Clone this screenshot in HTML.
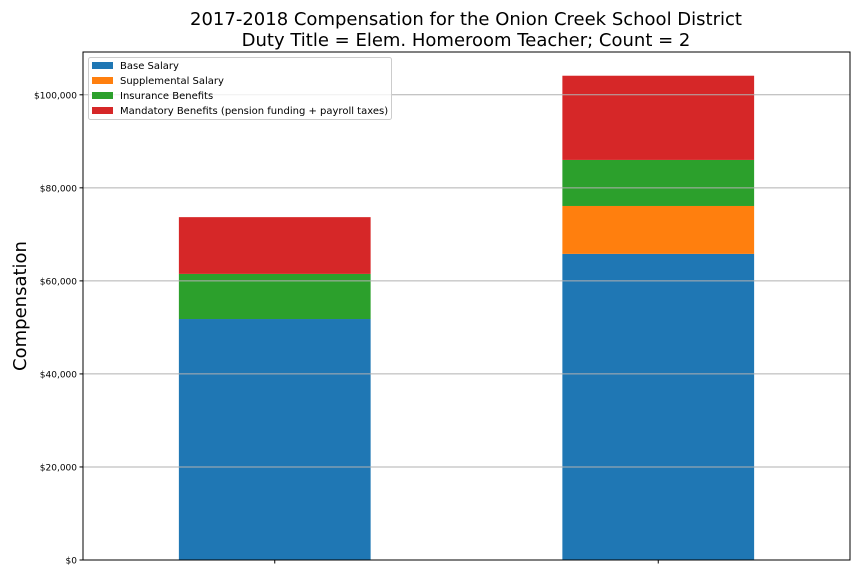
<!DOCTYPE html>
<html><head><meta charset="utf-8"><style>
body{margin:0;background:#fff;font-family:"Liberation Sans","DejaVu Sans",sans-serif}
</style></head><body>
<svg id="chart" width="864" height="576" xmlns="http://www.w3.org/2000/svg" font-family="DejaVu Sans, Liberation Sans, sans-serif">
<rect width="864" height="576" fill="#fff"/>
<text x="466" y="25" text-anchor="middle" font-size="18">2017-2018 Compensation for the Onion Creek School District</text>
<text x="466" y="46" text-anchor="middle" font-size="18">Duty Title = Elem. Homeroom Teacher; Count = 2</text>
<text transform="translate(26,306) rotate(-90)" text-anchor="middle" font-size="18">Compensation</text>
<g id="bars"></g>
<g id="grid"></g>
<g id="axes"></g>
<g id="legend"></g>
</svg>
<script>
const categories = ["Teacher A", "Teacher B"];
const baseSalary = [51800, 65800];
const supplementalSalary = [0, 10300];
const insuranceBenefits = [9700, 9900];
const mandatoryBenefits = [12200, 18100];
const yTicks = [0, 20000, 40000, 60000, 80000, 100000];
const yTickLabels = ["$0", "$20,000", "$40,000", "$60,000", "$80,000", "$100,000"];
const seriesNames = ["Base Salary", "Supplemental Salary", "Insurance Benefits", "Mandatory Benefits (pension funding + payroll taxes)"];

const NS = "http://www.w3.org/2000/svg";
const L = 83, R = 850, T = 52, B = 560;
const yMax = 109200;
const y = v => B - v / yMax * (B - T);
const x = i => L + (i + 0.5) / categories.length * (R - L);
const bw = (R - L) / categories.length * 0.5;
const colors = ["#1f77b4", "#ff7f0e", "#2ca02c", "#d62728"];
const series = [baseSalary, supplementalSalary, insuranceBenefits, mandatoryBenefits];
const keys = ["base-salary", "supplemental-salary", "insurance-benefits", "mandatory-benefits"];
function mk(tag, attrs, parent) { const e = document.createElementNS(NS, tag); for (const k in attrs) e.setAttribute(k, attrs[k]); parent.appendChild(e); return e; }

const gb = document.getElementById("bars");
categories.forEach((c, i) => {
  let acc = 0;
  series.forEach((s, j) => {
    const v = s[i];
    if (v > 0) {
      const r = mk("rect", { x: x(i) - bw / 2, y: y(acc + v), width: bw, height: y(acc) - y(acc + v), fill: colors[j] }, gb);
      
      
    }
    acc += v;
  });
});

const gg = document.getElementById("grid");
const ga = document.getElementById("axes");
yTicks.forEach((t, k) => {
  const gl = mk("line", { x1: L, x2: R, y1: y(t), y2: y(t), stroke: "#b0b0b0", "stroke-width": 1 }, gg);
  
  
  mk("line", { x1: L - 3.5, x2: L, y1: y(t), y2: y(t), stroke: "#000" }, ga);
  const tx = mk("text", { x: L - 6, y: y(t) + 3.5, "text-anchor": "end", "font-size": 9 }, ga);
  tx.textContent = yTickLabels[k];
  
  
});
categories.forEach((c, i) => {
  mk("line", { x1: x(i), x2: x(i), y1: B, y2: B + 3.5, stroke: "#000" }, ga);
});
const frame = mk("rect", { x: L, y: T, width: R - L, height: B - T, fill: "none", stroke: "#000", "stroke-width": 1 }, ga);



const lg = document.getElementById("legend");


mk("rect", { x: 88.5, y: 57.5, width: 303, height: 62, rx: 2, fill: "#fff", "fill-opacity": 0.8, stroke: "#ccc" }, lg);
seriesNames.forEach((n, j) => {
  const yy = 65 + j * 15;
  const sw = mk("rect", { x: 92, y: yy - 3, width: 21, height: 7, fill: colors[j] }, lg);
  
  
  const t = mk("text", { x: 120, y: yy + 4, "font-size": 10 }, lg);
  t.textContent = n;
  
  
});
</script>
</body></html>
